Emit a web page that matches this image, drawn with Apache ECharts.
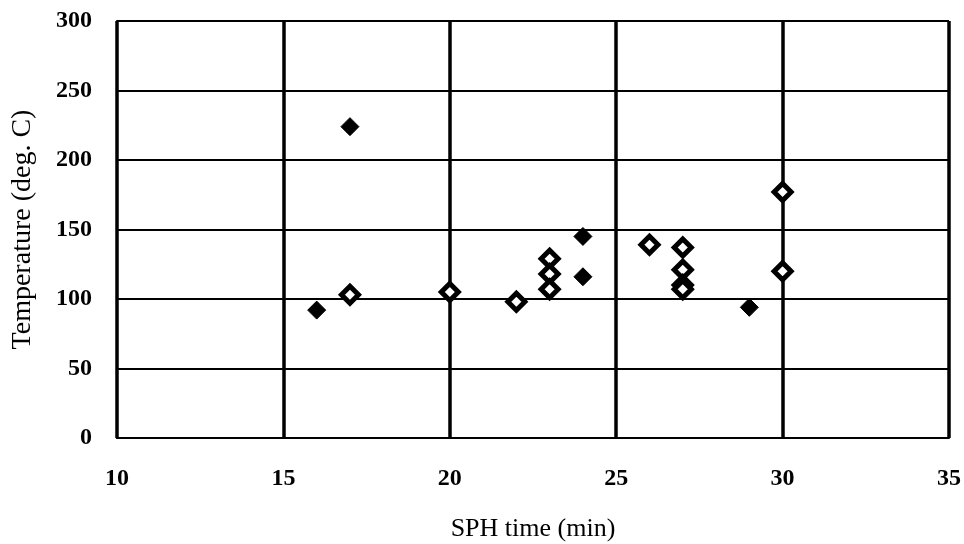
<!DOCTYPE html>
<html>
<head>
<meta charset="utf-8">
<script src="https://cdn.jsdelivr.net/npm/echarts@6/dist/echarts.min.js"></script>
<style>
html,body{margin:0;padding:0;background:#fff;}
#c{width:964px;height:544px;}
</style>
</head>
<body>
<div id="c"></div>
<script>
// SPH time (min) and Temperature (deg. C)
const solidTimes = [16, 17, 24, 24, 29];
const solidTemps = [92, 224, 145, 116, 94];
const dotTimes = [17, 20, 22, 23, 23, 23, 26, 27, 27, 27, 27, 30, 30];
const dotTemps = [103, 105, 98, 129, 118, 107, 139, 137, 121, 110, 107, 177, 120];
const xTicks = [10, 15, 20, 25, 30, 35];
const yTicks = [0, 50, 100, 150, 200, 250, 300];

const font = '"Liberation Serif", "Times New Roman", serif';
const chart = echarts.init(document.getElementById('c'));
chart.setOption({
  backgroundColor: '#fff',
  animation: false,
  grid: {left: 117, right: 15, top: 21, bottom: 106, containLabel: false, outerBoundsMode: 'none'},
  xAxis: {
    type: 'value', min: xTicks[0], max: xTicks[xTicks.length - 1], interval: 5,
    name: 'SPH time (min)', nameLocation: 'middle', nameGap: 78,
    nameTextStyle: {fontFamily: font, fontSize: 26, color: '#000'},
    axisLine: {show: true, lineStyle: {color: '#000', width: 2}},
    axisTick: {show: false},
    axisLabel: {fontFamily: font, fontSize: 24, fontWeight: 'bold', color: '#000', margin: 29},
    splitLine: {show: true, lineStyle: {color: '#000', width: 3.5}}
  },
  yAxis: {
    type: 'value', min: yTicks[0], max: yTicks[yTicks.length - 1], interval: 50,
    name: 'Temperature (deg. C)', nameLocation: 'middle', nameGap: 80,
    nameTextStyle: {fontFamily: font, fontSize: 28, color: '#000'},
    axisLine: {show: true, lineStyle: {color: '#000', width: 2}},
    axisTick: {show: false},
    axisLabel: {fontFamily: font, fontSize: 24, fontWeight: 'bold', color: '#000', margin: 25},
    splitLine: {show: true, lineStyle: {color: '#000', width: 2}}
  },
  series: [
    {
      type: 'scatter', symbol: 'diamond', symbolSize: 18,
      itemStyle: {color: '#000', borderColor: '#000', borderWidth: 1, opacity: 1},
      data: solidTimes.map((t, i) => [t, solidTemps[i]])
    },
    {
      type: 'scatter', symbol: 'diamond', symbolSize: 17,
      itemStyle: {color: '#fff', borderColor: '#000', borderWidth: 5, opacity: 1},
      data: dotTimes.map((t, i) => [t, dotTemps[i]])
    }
  ]
});
</script>
</body>
</html>
